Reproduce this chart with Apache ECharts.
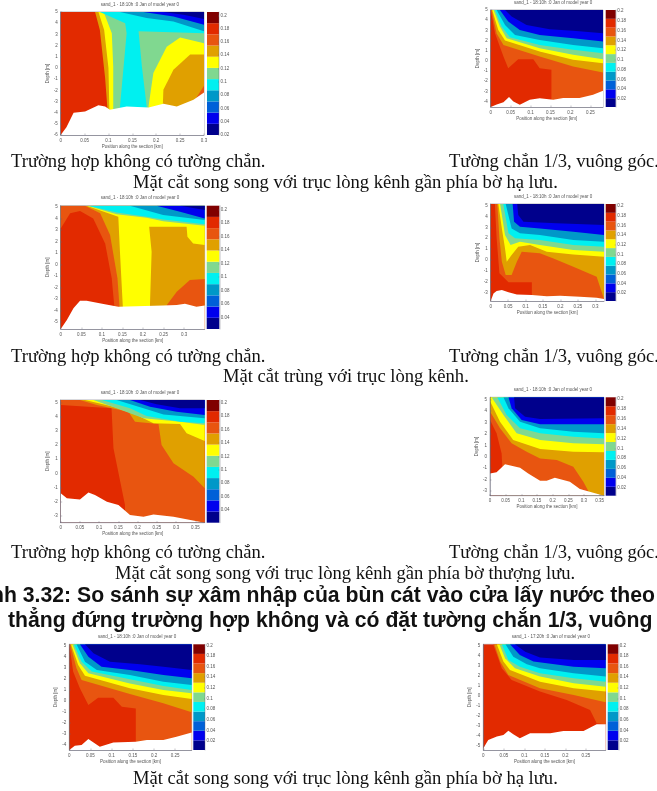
<!DOCTYPE html>
<html><head><meta charset="utf-8">
<style>html,body{margin:0;padding:0;background:#fff;overflow:hidden}#c{width:657px;height:791px;filter:blur(0.5px)}</style>
<script src="https://cdn.jsdelivr.net/npm/echarts@6/dist/echarts.min.js"></script>
</head><body><div id="c"></div>
<script>
// colour levels, low to high
const colours=['#00008c','#0000ee','#0060d8','#0098c8','#00f0f0','#80d890','#ffff00','#e0a000','#e85510','#e22a00','#800000'];
const NAVY=0,BLUE=1,TEAL=3,CYAN=4,GREEN=5,YEL=6,GOLD=7,ORG=8,RED=9;

const xTicks1=[0,0.05,0.1,0.15,0.2,0.25,0.3];
const xTicks2=[0,0.05,0.1,0.15,0.2,0.25];
const xTicks3=[0,0.05,0.1,0.15,0.2,0.25,0.3,0.35];
const yTicksA=[5,4,3,2,1,0,-1,-2,-3,-4,-5,-6];
const barTicks=[0.2,0.18,0.16,0.14,0.12,0.1,0.08,0.06,0.04,0.02];

const p1Layers=[
[RED,[[0,-6],[0.3,-6],[0.3,5],[0,5]]],
[GOLD,[[0.072,5],[0.3,5],[0.3,-6],[0.098,-6],[0.098,-3.75],[0.093,-0.9],[0.082,3.4]]],
[YEL,[[0.079,5],[0.3,5],[0.3,-6],[0.103,-6],[0.1,0],[0.091,3.4]]],
[GREEN,[[0.09,5],[0.3,5],[0.3,-6],[0.11,-6],[0.11,0.1],[0.107,3.1]]],
[CYAN,[[0.082,5],[0.135,4],[0.138,3.1],[0.124,-3.5],[0.124,-6],[0.18,-6],[0.18,-3.45],[0.17,0.13],[0.163,3.27],[0.3,3.1],[0.3,5]]],
[YEL,[[0.184,-6],[0.184,-3.4],[0.194,-0.46],[0.222,1.9],[0.25,2.73],[0.3,2.2],[0.3,-6]]],
[GOLD,[[0.214,-6],[0.214,-3.15],[0.215,-1.96],[0.236,-0.16],[0.271,1.2],[0.3,1.2],[0.3,-6]]],
[ORG,[[0.3,-1.6],[0.285,-2.6],[0.278,-3.1],[0.3,-6]]],
[TEAL,[[0.124,5],[0.18,4.46],[0.236,4.16],[0.3,3.27],[0.3,5]]],
[BLUE,[[0.173,5],[0.236,4.6],[0.3,3.87],[0.3,5]]],
[NAVY,[[0.215,5],[0.257,4.76],[0.3,4.37],[0.3,5]]]];
const p1Bed=[[0,-6],[0.012,-5.3],[0.027,-4],[0.051,-3.9],[0.079,-3.35],[0.093,-3.45],[0.103,-3.75],[0.138,-3.45],[0.184,-3.55],[0.215,-3.2],[0.243,-3.45],[0.278,-2.85],[0.3,-2.2]];

const p2Layers=[
[ORG,[[0,-4.54],[0.282,-4.54],[0.282,5],[0,5]]],
[RED,[[0,-4.54],[0,5],[0.011,2.7],[0.032,0.42],[0.044,-0.72],[0.069,0.16],[0.107,0.16],[0.123,-0.72],[0.1525,-0.88],[0.1525,-4.54]]],
[GOLD,[[0.0025,5],[0.015,2.7],[0.032,1.57],[0.123,0.42],[0.207,-0.56],[0.282,-1.14],[0.282,5]]],
[YEL,[[0.004,5],[0.019,3.04],[0.036,2],[0.123,0.92],[0.207,0.1],[0.282,-0.23],[0.282,5]]],
[GREEN,[[0.007,5],[0.023,3.37],[0.04,2.22],[0.123,1.24],[0.207,0.59],[0.282,0.16],[0.282,5]]],
[CYAN,[[0.011,5],[0.0275,3.37],[0.048,2.32],[0.123,1.57],[0.207,1.08],[0.282,0.75],[0.282,5]]],
[TEAL,[[0.015,5],[0.036,3.53],[0.061,2.55],[0.123,2.06],[0.207,1.57],[0.282,1.24],[0.282,5]]],
[BLUE,[[0.023,5],[0.044,3.86],[0.073,3.04],[0.123,2.55],[0.207,2.22],[0.282,1.9],[0.282,5]]],
[NAVY,[[0.036,5],[0.0525,4.35],[0.09,3.53],[0.148,3.1],[0.207,2.97],[0.282,2.71],[0.282,5]]]];
const p2Bed=[[0,-4.54],[0.015,-4.3],[0.032,-4.08],[0.046,-3.56],[0.057,-3.99],[0.073,-4.31],[0.098,-3.82],[0.123,-3.69],[0.157,-3.82],[0.182,-3.66],[0.223,-3.66],[0.257,-3.33],[0.282,-2.94]];

const p3Layers=[
[GOLD,[[0,-5.6],[0.35,-5.6],[0.35,5.1],[0,5.1]]],
[ORG,[[0,5.1],[0.059,5.1],[0.096,4.44],[0.12,2.56],[0.138,-1.2],[0.143,-3.66],[0.143,-5.6],[0,-5.6]]],
[RED,[[0,3.13],[0.023,4.44],[0.047,4.64],[0.079,4],[0.108,1.83],[0.124,-1.2],[0.13,-3.5],[0.13,-5.6],[0,-5.6]]],
[YEL,[[0.063,5.1],[0.14,4.15],[0.144,1.11],[0.151,-3.66],[0.151,-5.6],[0.217,-5.6],[0.217,-3.51],[0.221,1.11],[0.215,3.28],[0.306,3.28],[0.308,2.41],[0.322,1.83],[0.35,1.69],[0.35,5.1]]],
[ORG,[[0.258,-5.6],[0.258,-3.51],[0.282,-2.36],[0.314,-1.34],[0.35,-1.26],[0.35,-5.6]]],
[GREEN,[[0.065,5.1],[0.136,4.35],[0.209,4.05],[0.249,3.75],[0.35,3.35],[0.35,5.1]]],
[CYAN,[[0.067,5.1],[0.136,4.5],[0.209,4.15],[0.249,3.9],[0.35,3.5],[0.35,5.1]]],
[TEAL,[[0.168,5.1],[0.249,4.29],[0.35,3.86],[0.35,5.1]]],
[BLUE,[[0.233,5.1],[0.29,4.58],[0.35,4],[0.35,5.1]]],
[NAVY,[[0.29,5.1],[0.35,4.72],[0.35,5.1]]]];
const p3Bed=[[0,-5.6],[0.015,-4.81],[0.031,-3.8],[0.047,-3.14],[0.063,-3.14],[0.104,-3.43],[0.14,-3.66],[0.249,-3.57],[0.282,-3.51],[0.302,-3.4],[0.33,-3.66],[0.35,-3.57]];

const p4Layers=[
[ORG,[[0,-3.8],[0.325,-3.8],[0.325,5.15],[0,5.15]]],
[RED,[[0,5.15],[0.012,5.15],[0.017,1.98],[0.025,-1.25],[0.051,-2.08],[0.118,-2.08],[0.118,-3.8],[0,-3.8]]],
[GOLD,[[0.019,5.15],[0.025,1.98],[0.032,-0.17],[0.043,-1.4],[0.06,-1.4],[0.075,-0.17],[0.089,0.75],[0.141,0.6],[0.18,0.13],[0.237,-0.63],[0.304,-1.56],[0.325,-3.62],[0.325,5.15]]],
[YEL,[[0.022,5.15],[0.032,2.9],[0.041,1.06],[0.046,-0.17],[0.06,0.45],[0.079,1.21],[0.113,1.37],[0.161,0.75],[0.237,0.5],[0.325,0.29],[0.325,5.15]]],
[GREEN,[[0.027,5.15],[0.041,2.29],[0.057,1.37],[0.084,1.67],[0.141,1.37],[0.237,0.9],[0.325,0.75],[0.325,5.15]]],
[CYAN,[[0.036,5.15],[0.051,2.44],[0.07,1.98],[0.141,1.83],[0.237,1.37],[0.325,1.21],[0.325,5.15]]],
[TEAL,[[0.043,5.15],[0.06,2.9],[0.084,2.44],[0.141,2.29],[0.237,1.83],[0.325,1.67],[0.325,5.15]]],
[BLUE,[[0.063,5.15],[0.067,3.52],[0.084,3.06],[0.141,2.9],[0.237,2.6],[0.325,2.29],[0.325,5.15]]],
[NAVY,[[0.076,5.15],[0.079,4.13],[0.094,3.52],[0.189,3.37],[0.325,3.21],[0.325,5.15]]]];
const p4Bed=[[0,-3.8],[0.008,-3.1],[0.017,-2.88],[0.032,-2.79],[0.051,-3],[0.075,-3.19],[0.118,-3.25],[0.161,-3.37],[0.199,-3.31],[0.256,-3.4],[0.304,-3.5],[0.325,-3.62]];

const p5Layers=[
[RED,[[0,-3.5],[0.374,-3.5],[0.374,5.2],[0,5.2]]],
[ORG,[[0,5.2],[0,4.85],[0.132,4.61],[0.137,1.77],[0.167,-2.25],[0.167,-3.5],[0.374,-3.5],[0.374,5.2]]],
[GOLD,[[0.05,5.2],[0.094,4.85],[0.176,4.37],[0.193,3.66],[0.254,3.5],[0.262,2.01],[0.293,0.71],[0.345,-0.24],[0.374,-1.06],[0.374,5.2]]],
[YEL,[[0.063,5.2],[0.137,4.73],[0.197,4.14],[0.241,3.55],[0.31,3.5],[0.327,2.84],[0.374,2.29],[0.374,5.2]]],
[GREEN,[[0.085,5.2],[0.145,4.61],[0.215,3.9],[0.31,3.66],[0.374,3.43],[0.374,5.2]]],
[CYAN,[[0.107,5.2],[0.18,4.61],[0.223,4.07],[0.31,3.66],[0.374,3.55],[0.374,5.2]]],
[TEAL,[[0.145,5.2],[0.215,4.61],[0.267,4.18],[0.374,3.9],[0.374,5.2]]],
[BLUE,[[0.18,5.2],[0.232,4.73],[0.301,4.37],[0.374,4.14],[0.374,5.2]]],
[NAVY,[[0.206,5.2],[0.249,4.89],[0.31,4.61],[0.374,4.61],[0.374,5.2]]]];
const p5Bed=[[0,-1.42],[0.016,-1.77],[0.05,-1.85],[0.072,-1.35],[0.089,-1.54],[0.12,-2.01],[0.15,-2.25],[0.18,-2.96],[0.215,-3.07],[0.241,-2.91],[0.293,-3.07],[0.374,-3.5]];

const p6Layers=[
[GOLD,[[0,-3.4],[0.364,-3.4],[0.364,5.2],[0,5.2]]],
[ORG,[[0,3.95],[0.032,2.49],[0.069,1.18],[0.117,0.45],[0.16,-0.14],[0.213,-0.28],[0.266,-0.86],[0.298,-2.18],[0.314,-3],[0.314,-3.4],[0,-3.4]]],
[RED,[[0,3.22],[0.021,2.05],[0.037,0.3],[0.039,-0.72],[0.039,-3.4],[0,-3.4]]],
[YEL,[[0,5.2],[0,4.88],[0.032,3.07],[0.074,1.47],[0.16,0.68],[0.266,0.45],[0.364,0.39],[0.364,5.2]]],
[GREEN,[[0.005,5.2],[0.043,3.65],[0.085,2.05],[0.16,1.47],[0.266,1.18],[0.364,1.09],[0.364,5.2]]],
[CYAN,[[0.023,5.2],[0.053,3.65],[0.096,2.49],[0.16,2.05],[0.266,1.76],[0.364,1.61],[0.364,5.2]]],
[TEAL,[[0.043,5.2],[0.059,4.24],[0.096,3.07],[0.16,2.49],[0.266,2.2],[0.364,2.05],[0.364,5.2]]],
[BLUE,[[0.059,5.2],[0.069,4.24],[0.101,3.22],[0.16,2.84],[0.364,2.84],[0.364,5.2]]],
[NAVY,[[0.077,5.2],[0.08,4.24],[0.112,3.51],[0.16,3.3],[0.364,3.36],[0.364,5.2]]]];
const p6Bed=[[0,-1.45],[0.021,-1.36],[0.048,-0.66],[0.096,-0.95],[0.122,-1.45],[0.16,-2.09],[0.181,-2.09],[0.207,-1.83],[0.255,-2.18],[0.287,-2.82],[0.364,-3.4]];

const p7Layers=[
[ORG,[[0,-4.5],[0.289,-4.5],[0.289,5.1],[0,5.1]]],
[RED,[[0,-4.5],[0,5.1],[0.009,2.62],[0.025,1.1],[0.045,-0.42],[0.068,0.25],[0.104,0.25],[0.124,-0.57],[0.157,-0.72],[0.157,-4.5]]],
[GOLD,[[0.002,5.1],[0.017,2.92],[0.029,1.86],[0.143,0.58],[0.222,-0.26],[0.289,-1.08],[0.289,5.1]]],
[YEL,[[0.004,5.1],[0.021,3.22],[0.037,2.25],[0.143,1.1],[0.222,0.49],[0.289,0.13],[0.289,5.1]]],
[GREEN,[[0.007,5.1],[0.025,3.37],[0.045,2.46],[0.143,1.55],[0.222,0.95],[0.289,0.65],[0.289,5.1]]],
[CYAN,[[0.011,5.1],[0.029,3.52],[0.053,2.62],[0.143,1.92],[0.222,1.31],[0.289,0.95],[0.289,5.1]]],
[TEAL,[[0.017,5.1],[0.037,3.52],[0.065,2.77],[0.143,2.31],[0.222,1.71],[0.289,1.4],[0.289,5.1]]],
[BLUE,[[0.025,5.1],[0.045,3.98],[0.076,3.07],[0.143,2.77],[0.222,2.31],[0.289,2.01],[0.289,5.1]]],
[NAVY,[[0.037,5.1],[0.057,4.28],[0.096,3.52],[0.167,3.28],[0.222,3.07],[0.289,2.77],[0.289,5.1]]]];
const p7Bed=[[0,-4.5],[0.013,-4.11],[0.029,-4.05],[0.045,-3.51],[0.072,-4.2],[0.104,-3.81],[0.157,-3.75],[0.183,-3.6],[0.222,-3.6],[0.253,-3.29],[0.289,-2.9]];

const p8Layers=[
[RED,[[0,-5.4],[0.298,-5.4],[0.298,5.1],[0,5.1]]],
[ORG,[[0.024,5.1],[0.045,2.72],[0.069,1.56],[0.138,0.4],[0.203,-0.43],[0.26,-1.42],[0.276,-2.75],[0.298,-2.85],[0.298,5.1]]],
[GOLD,[[0.027,5.1],[0.041,3.38],[0.061,2.05],[0.138,0.73],[0.22,0.07],[0.298,-0.66],[0.298,5.1]]],
[YEL,[[0.033,5.1],[0.049,3.38],[0.065,2.55],[0.138,1.39],[0.22,0.73],[0.298,0.4],[0.298,5.1]]],
[GREEN,[[0.039,5.1],[0.053,3.71],[0.077,2.72],[0.138,1.89],[0.22,1.23],[0.298,0.89],[0.298,5.1]]],
[CYAN,[[0.045,5.1],[0.061,3.54],[0.089,2.88],[0.138,2.22],[0.22,1.72],[0.298,1.39],[0.298,5.1]]],
[TEAL,[[0.054,5.1],[0.073,3.87],[0.106,3.11],[0.138,2.72],[0.22,2.22],[0.298,1.89],[0.298,5.1]]],
[BLUE,[[0.065,5.1],[0.089,4.04],[0.122,3.38],[0.22,2.88],[0.298,2.72],[0.298,5.1]]],
[NAVY,[[0.077,5.1],[0.102,4.37],[0.138,3.78],[0.22,3.54],[0.298,3.54],[0.298,5.1]]]];
const p8Bed=[[0,-5.23],[0.012,-4.4],[0.033,-4.07],[0.049,-3.91],[0.061,-3.48],[0.073,-3.84],[0.089,-4.24],[0.114,-3.74],[0.163,-3.74],[0.195,-3.51],[0.244,-3.51],[0.276,-2.85],[0.298,-2.85]];

const titles=['sand_1 - 18:10h :0 Jan of model year 0','sand_1 - 18:10h :0 Jan of model year 0','sand_1 - 18:10h :0 Jan of model year 0','sand_1 - 18:10h :0 Jan of model year 0','sand_1 - 18:10h :0 Jan of model year 0','sand_1 - 18:10h :0 Jan of model year 0','sand_1 - 18:10h :0 Jan of model year 0','sand_1 - 17:20h :0 Jan of model year 0'];
const xName='Position along the section [km]';
const yName='Depth [m]';

// panel layout and axis extents
const panels=[
{l:60.7,r:204,t:12,b:135,bl:207,br:219,xmax:0.3,ymin:-6,ymax:5,cmin:0.02,cmax:0.205,xt:xTicks1,layers:p1Layers,bed:p1Bed},
{l:490.7,r:603,t:10,b:107,bl:605.7,br:615.7,xmax:0.282,ymin:-4.54,ymax:5,cmin:0.0036,cmax:0.202,xt:xTicks2,layers:p2Layers,bed:p2Bed},
{l:60.7,r:204.7,t:205.7,b:329,bl:206.7,br:219.3,xmax:0.35,ymin:-5.6,ymax:5.1,cmin:0.023,cmax:0.206,xt:xTicks1,layers:p3Layers,bed:p3Bed},
{l:490.7,r:604,t:204,b:301,bl:605.7,br:615.7,xmax:0.325,ymin:-3.8,ymax:5.15,cmin:0.0037,cmax:0.204,xt:xTicks1,layers:p4Layers,bed:p4Bed},
{l:60.7,r:204.7,t:400,b:522.7,bl:206.7,br:219.3,xmax:0.374,ymin:-3.5,ymax:5.2,cmin:0.021,cmax:0.204,xt:xTicks3,layers:p5Layers,bed:p5Bed},
{l:490,r:604,t:397.3,b:495.7,bl:605.7,br:615.7,xmax:0.364,ymin:-3.4,ymax:5.2,cmin:0.0037,cmax:0.204,xt:xTicks3,layers:p6Layers,bed:p6Bed},
{l:69.3,r:191.7,t:644.3,b:750,bl:193.3,br:205,xmax:0.289,ymin:-4.5,ymax:5.1,cmin:0.003,cmax:0.202,xt:xTicks2,layers:p7Layers,bed:p7Bed},
{l:483.3,r:605.7,t:644.3,b:750,bl:607.7,br:618.3,xmax:0.298,ymin:-5.4,ymax:5.1,cmin:0.003,cmax:0.202,xt:xTicks2,layers:p8Layers,bed:p8Bed}];

const captions=[
['Trường hợp không có tường chắn.',11,168],['Tường chắn 1/3, vuông góc.',449,168],
['Mặt cắt song song với trục lòng kênh gần phía bờ hạ lưu.',133,189],
['Trường hợp không có tường chắn.',11,363],['Tường chắn 1/3, vuông góc.',449,363],
['Mặt cắt trùng với trục lòng kênh.',223,383],
['Trường hợp không có tường chắn.',11,559],['Tường chắn 1/3, vuông góc.',449,559],
['Mặt cắt song song với trục lòng kênh gần phía bờ thượng lưu.',115,580],
['Mặt cắt song song với trục lòng kênh gần phía bờ hạ lưu.',133,785]];
const boldLine1='Hình 3.32: So sánh sự xâm nhập của bùn cát vào cửa lấy nước theo';
const boldLine2='thẳng đứng trường hợp không và có đặt tường chắn 1/3, vuông';

const tiny={fontSize:4.5,color:'#555',fontFamily:'Liberation Sans'};
const grid=[],xAxis=[],yAxis=[],series=[],gfx=[];
const W=657,H=791;
panels.forEach((p,i)=>{
  const g0=grid.length;
  grid.push({left:p.l,top:p.t,width:p.r-p.l,height:p.b-p.t,show:true,backgroundColor:'#fff',borderColor:'#667',borderWidth:0.5});
  xAxis.push({gridIndex:g0,type:'value',min:0,max:p.xmax,z:5,splitLine:{show:false},
    axisLine:{onZero:false,lineStyle:{color:'#667',width:0.6}},
    axisTick:{inside:true,length:1.5,lineStyle:{color:'#667',width:0.4},customValues:p.xt},
    axisLabel:{...tiny,margin:3,hideOverlap:false,customValues:p.xt},
    name:xName,nameLocation:'middle',nameGap:9,nameTextStyle:tiny});
  const yt=yTicksA.filter(v=>v>=p.ymin&&v<=p.ymax);
  yAxis.push({gridIndex:g0,type:'value',min:p.ymin,max:p.ymax,z:5,splitLine:{show:false},
    axisLine:{onZero:false,lineStyle:{color:'#667',width:0.6}},
    axisTick:{inside:true,length:1.5,lineStyle:{color:'#667',width:0.4},customValues:yt},
    axisLabel:{...tiny,margin:3,hideOverlap:false,customValues:yt},
    name:yName,nameLocation:'middle',nameGap:8,nameTextStyle:tiny});
  const polys=p.layers.concat([[null,[...p.bed,[p.xmax,p.ymin],[0,p.ymin]]]]);
  series.push({type:'custom',xAxisIndex:g0,yAxisIndex:g0,coordinateSystem:'cartesian2d',clip:true,silent:true,animation:false,
    data:polys.map((_,k)=>[k]),
    renderItem:(params,api)=>{
      const [c,pts]=polys[params.dataIndex];
      return {type:'polygon',shape:{points:pts.map(q=>api.coord(q))},style:{fill:c===null?'#fff':colours[c]}};
    }});
  // colour bar
  const g1=grid.length;
  grid.push({left:p.bl,top:p.t,width:p.br-p.bl,height:p.b-p.t});
  xAxis.push({gridIndex:g1,type:'value',min:0,max:1,show:false});
  const bt=barTicks.filter(v=>v>=p.cmin);
  yAxis.push({gridIndex:g1,type:'value',position:'right',min:p.cmin,max:p.cmax,z:5,splitLine:{show:false},
    axisLine:{show:true,onZero:false,lineStyle:{color:'#667',width:0.4}},
    axisTick:{show:true,inside:true,length:1,lineStyle:{color:'#667',width:0.4},customValues:bt},
    axisLabel:{...tiny,margin:1.5,hideOverlap:false,customValues:bt}});
  const step=(p.cmax-p.cmin)/colours.length;
  series.push({type:'custom',xAxisIndex:g1,yAxisIndex:g1,coordinateSystem:'cartesian2d',silent:true,animation:false,
    data:colours.map((_,k)=>[k]),
    renderItem:(params,api)=>{
      const k=params.dataIndex;
      const a=api.coord([0,p.cmin+step*k]),b=api.coord([1,p.cmin+step*(k+1)]);
      return {type:'rect',shape:{x:a[0],y:b[1],width:b[0]-a[0],height:a[1]-b[1]},style:{fill:colours[k]}};
    }});
  gfx.push({type:'text',z:20,style:{x:(p.l+p.br)/2,y:p.t-10,text:titles[i],font:'4.5px "Liberation Sans"',fill:'#555',textAlign:'center'}});
});
captions.forEach(c=>gfx.push({type:'text',z:20,style:{x:c[1],y:c[2]+4,text:c[0],font:'18.6px "Liberation Serif"',fill:'#111',textVerticalAlign:'bottom'}}));
gfx.push({type:'text',z:20,style:{x:655,y:607,text:boldLine1,font:'bold 21.2px "Liberation Sans"',fill:'#111',textAlign:'right',textVerticalAlign:'bottom'}});
gfx.push({type:'text',z:20,style:{x:8,y:632,text:boldLine2,font:'bold 21.2px "Liberation Sans"',fill:'#111',textVerticalAlign:'bottom'}});

const chart=echarts.init(document.getElementById('c'),null,{width:W,height:H,renderer:'canvas'});
chart.setOption({animation:false,backgroundColor:'#fff',grid,xAxis,yAxis,series,graphic:{elements:gfx}});
</script></body></html>
